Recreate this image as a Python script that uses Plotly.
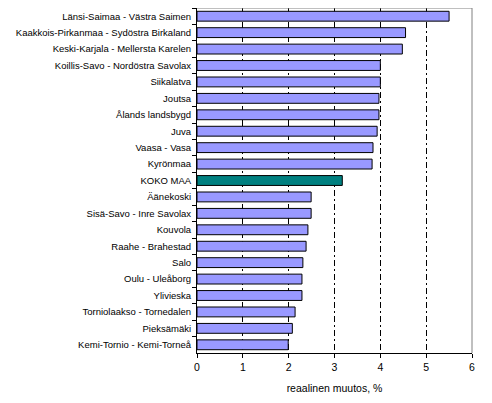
import plotly.graph_objects as go

categories = [
    "Länsi-Saimaa - Västra Saimen",
    "Kaakkois-Pirkanmaa - Sydöstra Birkaland",
    "Keski-Karjala - Mellersta Karelen",
    "Koillis-Savo - Nordöstra Savolax",
    "Siikalatva",
    "Joutsa",
    "Ålands landsbygd",
    "Juva",
    "Vaasa - Vasa",
    "Kyrönmaa",
    "KOKO MAA",
    "Äänekoski",
    "Sisä-Savo - Inre Savolax",
    "Kouvola",
    "Raahe - Brahestad",
    "Salo",
    "Oulu - Uleåborg",
    "Ylivieska",
    "Torniolaakso - Tornedalen",
    "Pieksämäki",
    "Kemi-Tornio - Kemi-Torneå",
]
values = [5.50, 4.55, 4.48, 4.00, 4.00, 3.97, 3.97, 3.93, 3.84, 3.82, 3.17,
          2.49, 2.49, 2.42, 2.38, 2.31, 2.29, 2.29, 2.14, 2.08, 1.99]
x_ticks = [0, 1, 2, 3, 4, 5, 6]
x_title = "reaalinen muutos, %"
highlight = "KOKO MAA"

colors = ["#008080" if c == highlight else "#9999FF" for c in categories]

fig = go.Figure(go.Bar(
    x=values, y=categories, orientation="h",
    marker=dict(color=colors, line=dict(color="black", width=1)),
    width=0.6,
))

font = dict(family="Liberation Sans, Arial, sans-serif", size=9.5, color="black")
font_x = dict(family="Liberation Sans, Arial, sans-serif", size=10.5, color="black")

fig.update_layout(
    width=492, height=403,
    margin=dict(l=189, r=28, t=0, b=58, autoexpand=False),
    paper_bgcolor="white", plot_bgcolor="white",
    font=font,
    showlegend=False,
    shapes=[
        dict(type="line", xref="paper", yref="paper", x0=0, x1=1, y0=1, y1=1,
             line=dict(color="#808080", width=1)),
        dict(type="line", xref="paper", yref="paper", x0=1, x1=1, y0=0, y1=1,
             line=dict(color="#808080", width=1)),
    ],
)
fig.update_xaxes(
    range=[0, 6], tickvals=x_ticks, ticktext=[str(t) for t in x_ticks],
    showgrid=True, gridcolor="black", gridwidth=1, griddash="6px,3px,2px,3px",
    zeroline=False, showline=True, linecolor="black", linewidth=1,
    ticks="outside", ticklen=4, tickcolor="black",
    title=dict(text=x_title, font=font_x, standoff=13),
    layer="below traces", automargin=False,
    tickfont=font_x,
)
fig.update_yaxes(
    categoryorder="array", categoryarray=categories, autorange="reversed",
    showline=True, linecolor="black", linewidth=1,
    ticks="outside", ticklen=4, tickcolor="black", tickson="boundaries",
    showgrid=False, ticklabelstandoff=3, automargin=False,
)

fig.write_html("out.html")
